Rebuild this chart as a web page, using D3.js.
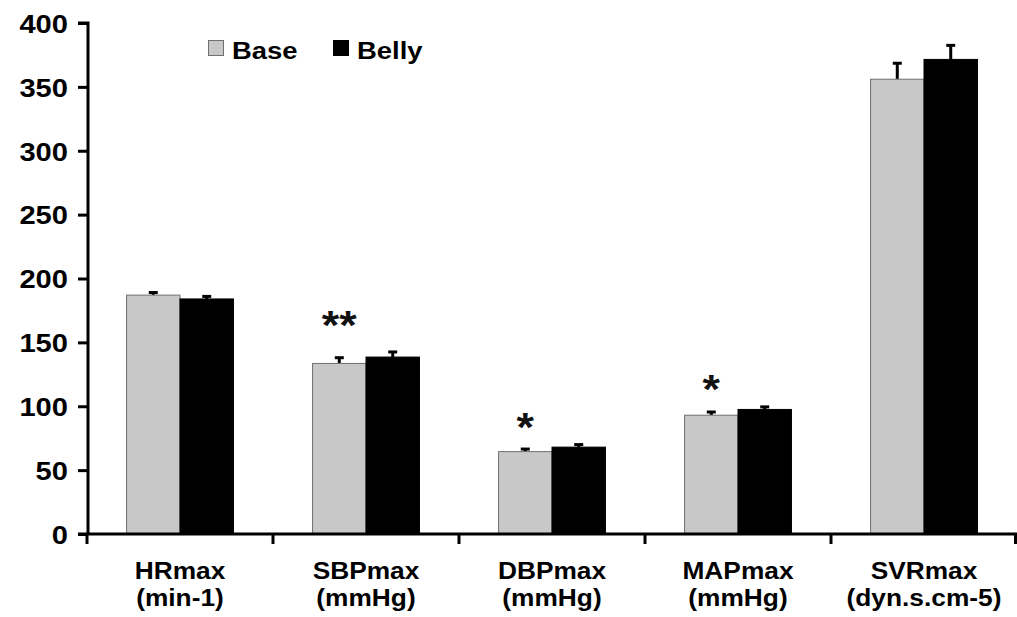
<!DOCTYPE html>
<html>
<head>
<meta charset="utf-8">
<script src="https://cdn.jsdelivr.net/npm/d3@7"></script>
<style>
  html, body { margin: 0; padding: 0; background: #fff; }
  svg { display: block; font-family: "Liberation Sans", Arial, sans-serif; font-weight: bold; }
</style>
</head>
<body>
<svg id="chart" width="1017" height="617"></svg>
<script>
// Peak haemodynamic values, baseline vs. belly condition
const categories = ["HRmax", "SBPmax", "DBPmax", "MAPmax", "SVRmax"];
const units = ["(min-1)", "(mmHg)", "(mmHg)", "(mmHg)", "(dyn.s.cm-5)"];
const series = ["Base", "Belly"];
const baseValues = [187, 133.5, 64.5, 93, 356];
const bellyValues = [184, 138.5, 68, 97.5, 371.5];
const baseErrors = [2, 4.5, 2, 2.5, 12.5];
const bellyErrors = [2, 4, 2, 2, 11];
const significance = ["", "**", "*", "*", ""];
// level (in axis units) at which each significance marker sits
const significanceLevel = [null, 153, 72.5, 102.5, null];
const yTicks = [0, 50, 100, 150, 200, 250, 300, 350, 400];

const colors = { Base: "#c8c8c8", Belly: "#000000" };
const outline = { Base: "#707070", Belly: "#000000" };
const STRETCH = 1.12; // wide bold lettering

const svg = d3.select("#chart");

const x0 = d3.scaleBand().domain(categories).range([87, 1017]).padding(0);
const x1 = d3.scaleBand().domain(series).range([0, x0.bandwidth()])
  .paddingInner(0).paddingOuter(0.74);
const y = d3.scaleLinear().domain([0, 400]).range([534, 23]);

// draws a horizontally widened text label anchored at (x, y)
function wideText(sel, x, yPos) {
  return sel.attr("x", 0).attr("y", 0)
    .attr("transform", `translate(${x},${yPos}) scale(${STRETCH},1)`);
}

const rows = categories.map((c, i) => ({
  cat: c,
  vals: [
    { s: "Base", v: baseValues[i], e: baseErrors[i] },
    { s: "Belly", v: bellyValues[i], e: bellyErrors[i] }
  ]
}));

const groups = svg.append("g").selectAll("g").data(rows).join("g")
  .attr("transform", d => `translate(${x0(d.cat)},0)`);

// Upper error bars
groups.selectAll("g.err").data(d => d.vals).join("g").attr("class", "err")
  .each(function (d) {
    const g = d3.select(this);
    const cx = x1(d.s) + x1.bandwidth() / 2;
    g.append("line").attr("x1", cx).attr("x2", cx)
      .attr("y1", y(d.v)).attr("y2", y(d.v + d.e))
      .attr("stroke", "#000").attr("stroke-width", 3);
    g.append("line").attr("x1", cx - 4.5).attr("x2", cx + 4.5)
      .attr("y1", y(d.v + d.e)).attr("y2", y(d.v + d.e))
      .attr("stroke", "#000").attr("stroke-width", 3);
  });

// Bars
groups.selectAll("rect").data(d => d.vals).join("rect")
  .attr("x", d => x1(d.s))
  .attr("y", d => y(d.v))
  .attr("width", x1.bandwidth())
  .attr("height", d => y(0) - y(d.v))
  .attr("fill", d => colors[d.s])
  .attr("stroke", d => outline[d.s])
  .attr("stroke-width", 1);

// Significance markers above the Base bars
svg.append("g").selectAll("text")
  .data(categories.map((c, i) => ({ c, i })).filter(d => significance[d.i]))
  .join("text")
  .each(function (d) {
    wideText(d3.select(this), x0(d.c) + x1("Base") + x1.bandwidth() / 2, y(significanceLevel[d.i]));
  })
  .attr("text-anchor", "middle")
  .attr("font-size", 40)
  .attr("fill", "#111")
  .text(d => significance[d.i]);

// Y axis
const yAxis = d3.axisLeft(y).tickValues(yTicks).tickSize(10).tickPadding(10);
const gy = svg.append("g").attr("transform", "translate(88,0)").call(yAxis);
gy.select(".domain").attr("stroke-width", 3).attr("d", `M-10,${y(400)}H0V${y(0)}`);
gy.selectAll(".tick line").attr("stroke-width", 3);
gy.selectAll(".tick text")
  .attr("font-size", 26).attr("font-weight", "bold")
  .attr("font-family", "Liberation Sans, Arial, sans-serif").attr("fill", "#000")
  .each(function () {
    const t = d3.select(this);
    const tx = +t.attr("x");
    t.attr("x", tx / STRETCH).attr("dy", "0.36em").attr("transform", `scale(${STRETCH},1)`);
  });

// X axis with ticks at category boundaries
const xAxisG = svg.append("g");
xAxisG.append("line").attr("x1", 78).attr("x2", 1017).attr("y1", y(0)).attr("y2", y(0))
  .attr("stroke", "#000").attr("stroke-width", 3);
const bounds = categories.map(c => x0(c)).concat([x0.range()[1] - 1.5]);
xAxisG.selectAll("line.tk").data(bounds).join("line").attr("class", "tk")
  .attr("x1", d => d).attr("x2", d => d)
  .attr("y1", y(0)).attr("y2", y(0) + 10)
  .attr("stroke", "#000").attr("stroke-width", 3);

const labelRows = categories.map((c, i) => ({ c, u: units[i] }));
[["c", 579], ["u", 606]].forEach(([key, yy]) => {
  xAxisG.selectAll(`text.l${key}`).data(labelRows).join("text")
    .attr("class", `l${key}`)
    .each(function (d) { wideText(d3.select(this), x0(d.c) + x0.bandwidth() / 2, yy); })
    .attr("text-anchor", "middle")
    .attr("font-size", 23.5)
    .attr("fill", "#000")
    .text(d => d[key]);
});

// Legend
const legend = svg.append("g").attr("transform", "translate(208,40)");
const legendX = [0, 125];
series.forEach((s, i) => {
  const lg = legend.append("g").attr("transform", `translate(${legendX[i]},0)`);
  lg.append("rect").attr("x", 0.5).attr("y", 0.5).attr("width", 15).attr("height", 15)
    .attr("fill", colors[s]).attr("stroke", outline[s]);
  wideText(lg.append("text"), 24, 18.5)
    .attr("font-size", 24.5).attr("fill", "#000").text(s);
});
</script>
</body>
</html>
